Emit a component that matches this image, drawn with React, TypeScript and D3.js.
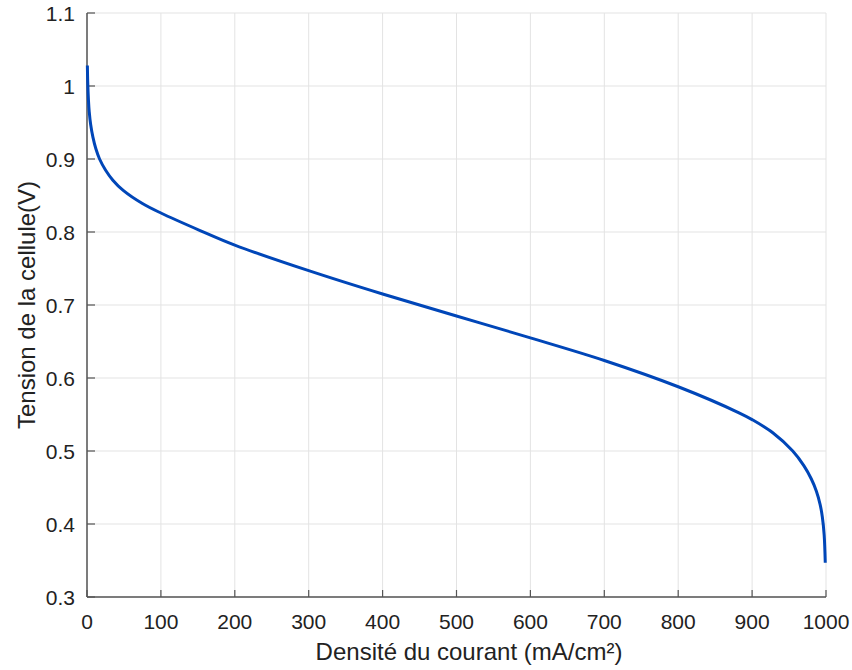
import React from "react";
import * as d3 from "d3";

const currentDensity = [0.5, 1, 2, 3, 5, 8, 12, 17, 25, 35, 49, 75, 100, 153, 200, 300, 400, 500, 600, 700, 800, 883, 900, 928, 955, 970, 980, 987, 992, 995, 997.5, 999];
const cellVoltage = [1.028, 1.005, 0.98, 0.965, 0.947, 0.93, 0.914, 0.9, 0.885, 0.871, 0.857, 0.839, 0.826, 0.802, 0.782, 0.747, 0.715, 0.685, 0.655, 0.624, 0.588, 0.552, 0.543, 0.525, 0.5, 0.48, 0.462, 0.445, 0.427, 0.41, 0.385, 0.347];
const xTicks = [0, 100, 200, 300, 400, 500, 600, 700, 800, 900, 1000];
const yTicks = [0.3, 0.4, 0.5, 0.6, 0.7, 0.8, 0.9, 1.0, 1.1];
const xLabel = "Densité du courant (mA/cm²)";
const yLabel = "Tension de la cellule(V)";

export default function App() {
  const W = 852, H = 670;
  const left = 87, right = 826, top = 13, bottom = 597;
  const x = d3.scaleLinear().domain([0, 1000]).range([left, right]);
  const y = d3.scaleLinear().domain([0.3, 1.1]).range([bottom, top]);
  const pts: [number, number][] = currentDensity.map((d, i) => [d, cellVoltage[i]]);
  const line = d3.line<[number, number]>().x(d => x(d[0])).y(d => y(d[1])).curve(d3.curveCatmullRom.alpha(0.5));
  const font = "'Liberation Sans', Arial, sans-serif";
  const axisColor = "#555";
  return (
    <svg width={W} height={H} style={{ position: "absolute", left: 0, top: 0, background: "#fff" }} fontFamily={font}>
      {xTicks.map(t => (
        <line key={"gx" + t} x1={x(t)} x2={x(t)} y1={top} y2={bottom} stroke="#e3e3e3" strokeWidth={1} />
      ))}
      {yTicks.map(t => (
        <line key={"gy" + t} x1={left} x2={right} y1={y(t)} y2={y(t)} stroke="#e3e3e3" strokeWidth={1} />
      ))}
      {xTicks.map(t => (
        <g key={"tx" + t}>
          <line x1={x(t)} x2={x(t)} y1={bottom} y2={bottom - 7} stroke={axisColor} strokeWidth={1.2} />
          <text x={x(t)} y={629} textAnchor="middle" fontSize={21} fill="#222">{t}</text>
        </g>
      ))}
      {yTicks.map(t => (
        <g key={"ty" + t}>
          <line x1={left} x2={left + 8} y1={y(t)} y2={y(t)} stroke={axisColor} strokeWidth={1.2} />
          <text x={75} y={y(t) + 8} textAnchor="end" fontSize={21} fill="#222">{d3.format("~g")(t)}</text>
        </g>
      ))}
      <line x1={left} x2={left} y1={top} y2={bottom} stroke={axisColor} strokeWidth={1.5} />
      <line x1={left} x2={right} y1={bottom} y2={bottom} stroke={axisColor} strokeWidth={1.5} />
      <path d={line(pts) || ""} fill="none" stroke="#0046b8" strokeWidth={3} />
      <text x={469} y={660} textAnchor="middle" fontSize={24} fill="#222">{xLabel}</text>
      <text transform={`translate(35, 305) rotate(-90)`} textAnchor="middle" fontSize={24} fill="#222">{yLabel}</text>
    </svg>
  );
}
